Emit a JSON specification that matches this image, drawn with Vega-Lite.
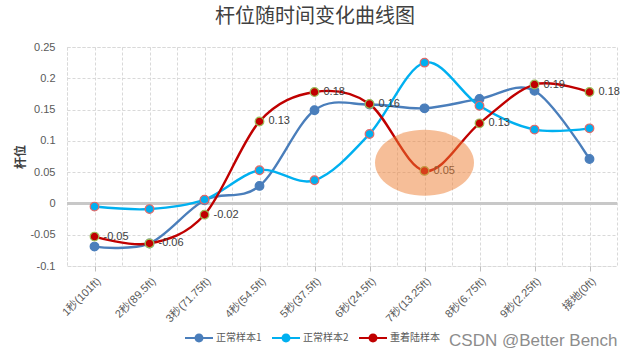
{
  "$schema": "https://vega.github.io/schema/vega-lite/v6.json",
  "autosize": "none",
  "width": 550,
  "height": 219,
  "padding": {"left": 67, "top": 47, "right": 13, "bottom": 92},
  "background": "white",
  "title": {
    "text": "杆位随时间变化曲线图",
    "font": "Noto Sans CJK SC",
    "fontSize": 20,
    "fontWeight": "normal",
    "color": "#404040",
    "anchor": "middle",
    "dx": -27,
    "offset": 14
  },
  "config": {
    "view": {"stroke": "#d9d9d9", "strokeDash": [3, 2]},
    "axis": {
      "labelFont": "Liberation Sans, Noto Sans CJK SC",
      "labelFontSize": 11,
      "labelColor": "#595959",
      "gridColor": "#d9d9d9",
      "gridDash": [3, 2],
      "domain": false,
      "labelOverlap": false,
      "labelSeparation": 0
    }
  },
  "datasets": {
    "main": [
      {"t": "1秒(101ft)", "s": "正常样本1", "v": -0.069},
      {"t": "2秒(89.5ft)", "s": "正常样本1", "v": -0.064},
      {"t": "3秒(71.75ft)", "s": "正常样本1", "v": 0.005},
      {"t": "4秒(54.5ft)", "s": "正常样本1", "v": 0.028},
      {"t": "5秒(37.5ft)", "s": "正常样本1", "v": 0.149},
      {"t": "6秒(24.5ft)", "s": "正常样本1", "v": 0.158},
      {"t": "7秒(13.25ft)", "s": "正常样本1", "v": 0.152},
      {"t": "8秒(6.75ft)", "s": "正常样本1", "v": 0.167},
      {"t": "9秒(2.25ft)", "s": "正常样本1", "v": 0.18},
      {"t": "接地(0ft)", "s": "正常样本1", "v": 0.071},
      {"t": "1秒(101ft)", "s": "正常样本2", "v": -0.005},
      {"t": "2秒(89.5ft)", "s": "正常样本2", "v": -0.009},
      {"t": "3秒(71.75ft)", "s": "正常样本2", "v": 0.006},
      {"t": "4秒(54.5ft)", "s": "正常样本2", "v": 0.053},
      {"t": "5秒(37.5ft)", "s": "正常样本2", "v": 0.037},
      {"t": "6秒(24.5ft)", "s": "正常样本2", "v": 0.111},
      {"t": "7秒(13.25ft)", "s": "正常样本2", "v": 0.225},
      {"t": "8秒(6.75ft)", "s": "正常样本2", "v": 0.156},
      {"t": "9秒(2.25ft)", "s": "正常样本2", "v": 0.118},
      {"t": "接地(0ft)", "s": "正常样本2", "v": 0.12},
      {"t": "1秒(101ft)", "s": "重着陆样本", "v": -0.053},
      {"t": "2秒(89.5ft)", "s": "重着陆样本", "v": -0.064},
      {"t": "3秒(71.75ft)", "s": "重着陆样本", "v": -0.018},
      {"t": "4秒(54.5ft)", "s": "重着陆样本", "v": 0.131},
      {"t": "5秒(37.5ft)", "s": "重着陆样本", "v": 0.178},
      {"t": "6秒(24.5ft)", "s": "重着陆样本", "v": 0.159},
      {"t": "7秒(13.25ft)", "s": "重着陆样本", "v": 0.052},
      {"t": "8秒(6.75ft)", "s": "重着陆样本", "v": 0.128},
      {"t": "9秒(2.25ft)", "s": "重着陆样本", "v": 0.19},
      {"t": "接地(0ft)", "s": "重着陆样本", "v": 0.178}
    ],
    "highlight": [
      {"t": "7秒(13.25ft)", "v": 0.065}
    ]
  },
  "data": {"name": "main"},
  "layer": [
    {
      "mark": {"type": "rule", "color": "#c8c8c8", "strokeWidth": 1.5},
      "encoding": {"y": {"datum": 0}}
    },
    {
      "mark": {"type": "line", "interpolate": "cardinal", "strokeWidth": 2.4},
      "encoding": {
        "x": {
          "field": "t",
          "type": "nominal",
          "scale": {"type": "point", "padding": 0.5, "domain": ["1秒(101ft)", "2秒(89.5ft)", "3秒(71.75ft)", "4秒(54.5ft)", "5秒(37.5ft)", "6秒(24.5ft)", "7秒(13.25ft)", "8秒(6.75ft)", "9秒(2.25ft)", "接地(0ft)"]},
          "axis": {
            "orient": "bottom",
            "labelAngle": -45,
            "labelPadding": 4,
            "ticks": true,
            "tickSize": 5,
            "tickColor": "#bfbfbf",
            "grid": true,
            "title": "CSDN @Better Bench",
            "titleFont": "Liberation Sans",
            "titleFontSize": 17,
            "titleFontWeight": "normal",
            "titleColor": "#8c8c8c",
            "titleAlign": "right",
            "titleAnchor": "end",
            "titleX": 550,
            "titleY": 79,
            "titleBaseline": "alphabetic"
          }
        },
        "y": {
          "field": "v",
          "type": "quantitative",
          "scale": {"domain": [-0.1, 0.25], "nice": false, "zero": false},
          "axis": {
            "tickCount": 8,
            "labelExpr": "replace(format(datum.value, '~g'), '−', '-')",
            "labelOverlap": false,
            "labelSeparation": 0,
            "ticks": false,
            "tickSize": 0,
            "labelPadding": 12,
            "grid": true,
            "title": "杆位",
            "titleFont": "Noto Sans CJK SC",
            "titleFontSize": 12,
            "titleFontWeight": "bold",
            "titleColor": "#404040",
            "titlePadding": 2
          }
        },
        "color": {
          "field": "s",
          "type": "nominal",
          "scale": {"domain": ["正常样本1", "正常样本2", "重着陆样本"], "range": ["#4A7EBB", "#00B0F0", "#C00000"]},
          "legend": {
            "orient": "none",
            "legendX": 118,
            "legendY": 277,
            "direction": "horizontal",
            "title": null,
            "symbolType": "M-1,-0.08 L1,-0.08 L1,0.08 L-1,0.08 Z M0.32,0 A0.32,0.32 0 1,1 -0.32,0 A0.32,0.32 0 1,1 0.32,0 Z",
            "symbolSize": 784,
            "symbolStrokeWidth": 0,
            "labelFont": "Noto Sans CJK SC",
            "labelFontSize": 10,
            "labelColor": "#595959",
            "labelOffset": 3,
            "columnPadding": 10
          }
        }
      }
    },
    {
      "mark": {"type": "point", "filled": true, "size": 75, "strokeWidth": 1.2, "opacity": 1},
      "encoding": {
        "x": {"field": "t", "type": "nominal", "axis": null},
        "y": {"field": "v", "type": "quantitative"},
        "color": {"field": "s", "type": "nominal"},
        "stroke": {
          "field": "s",
          "type": "nominal",
          "scale": {"domain": ["正常样本1", "正常样本2", "重着陆样本"], "range": ["#4A7EBB", "#E06A6A", "#9BBB59"]},
          "legend": null
        }
      }
    },
    {
      "transform": [
        {"filter": "datum.s === '重着陆样本'"},
        {"calculate": "replace(format(datum.v, '.2f'), '−', '-')", "as": "lab"}
      ],
      "mark": {"type": "text", "align": "left", "baseline": "middle", "dx": 9, "fontSize": 11, "font": "Liberation Sans", "color": "#404040"},
      "encoding": {
        "x": {"field": "t", "type": "nominal", "axis": null},
        "y": {"field": "v", "type": "quantitative"},
        "text": {"field": "lab"}
      }
    },
    {
      "data": {"name": "highlight"},
      "mark": {
        "type": "point",
        "filled": true,
        "shape": "M-1.5,0 A1.5,1 0 1,1 1.5,0 A1.5,1 0 1,1 -1.5,0 Z",
        "size": 4356,
        "color": "#ED7D31",
        "opacity": 0.5,
        "strokeWidth": 0
      },
      "encoding": {
        "x": {
          "field": "t",
          "type": "nominal",
          "axis": {
            "orient": "bottom",
            "labels": false,
            "ticks": false,
            "domain": false,
            "grid": true,
            "tickOffset": -27.5,
            "title": null
          }
        },
        "y": {"field": "v", "type": "quantitative"}
      }
    }
  ],
  "resolve": {"axis": {"x": "independent"}}
}
